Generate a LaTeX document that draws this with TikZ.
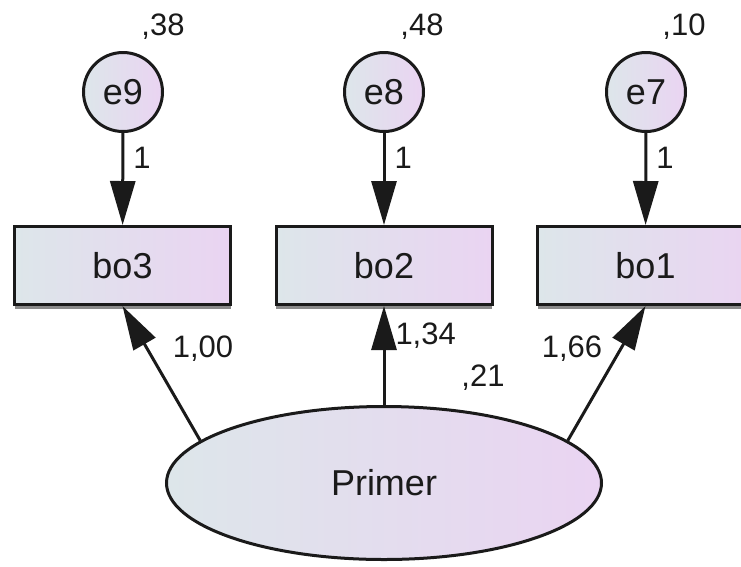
\documentclass[tikz,border=0pt]{standalone}
\usepackage{fontspec}
\setmainfont{Liberation Sans}
\definecolor{semleft}{HTML}{DDE6EA}
\definecolor{semright}{HTML}{EAD4F2}
\definecolor{semink}{HTML}{1A1A1A}
\definecolor{semshade}{HTML}{8A8A8A}
\usetikzlibrary{shapes.geometric,arrows.meta,positioning,shadows}

\begin{document}
\begin{tikzpicture}[x=1pt,y=-1pt,
  obs/.style={draw=semink, line width=3pt, left color=semleft, right color=semright,
              minimum width=216pt, minimum height=78pt, inner sep=0pt,
              drop shadow={shadow xshift=0pt,shadow yshift=-4pt,fill=semshade,opacity=1},
              font=\fontsize{36}{40}\selectfont\color{semink}},
  err/.style={circle, draw=semink, line width=3pt, left color=semleft, right color=semright,
              minimum size=79pt, inner sep=0pt,
              font=\fontsize{36}{40}\selectfont\color{semink}},
  lat/.style={ellipse, draw=semink, line width=3pt, left color=semleft, right color=semright,
              minimum width=435pt, minimum height=153pt, inner sep=0pt,
              font=\fontsize{36}{40}\selectfont\color{semink}},
  val/.style={inner sep=0pt, font=\fontsize{31}{34}\selectfont\color{semink}},
  arr/.style={-{Triangle[length=44pt,width=25pt]},draw=semink,line width=3pt}
]
  \useasboundingbox (0,0) rectangle (741,566);

  %% error terms
  \node[err] (e9) at (123,92) {e9};
  \node[err] (e8) at (384,92) {e8};
  \node[err] (e7) at (646,92) {e7};
  \node[val] (v9) at (163,27) {,38};
  \node[val] (v8) at (422,27) {,48};
  \node[val] (v7) at (684,27) {,10};

  %% observed items
  \node[obs] (bo3) at (122.5,265.5) {bo3};
  \node[obs] (bo2) at (384,265.5)   {bo2};
  \node[obs] (bo1) at (645.5,265.5) {bo1};
  \draw[arr] (e9) -- node[val,pos=0.27,right=9pt]{1} (bo3);
  \draw[arr] (e8) -- node[val,pos=0.27,right=9pt]{1} (bo2);
  \draw[arr] (e7) -- node[val,pos=0.27,right=9pt]{1} (bo1);

  %% latent factor
  \node[lat] (pr) at (384,483) {Primer};
  \node[val] (v1) at (483,378) {,21};
  \draw[arr] (pr.167) -- node[val,pos=0.68,right=24pt]{1,00} (bo3.south);
  \draw[arr] (pr.north) -- node[val,pos=0.70,right=10pt]{1,34} (bo2.south);
  \draw[arr] (pr.13) -- node[val,pos=0.68,left=17pt]{1,66} (bo1.south);
\end{tikzpicture}
\end{document}
